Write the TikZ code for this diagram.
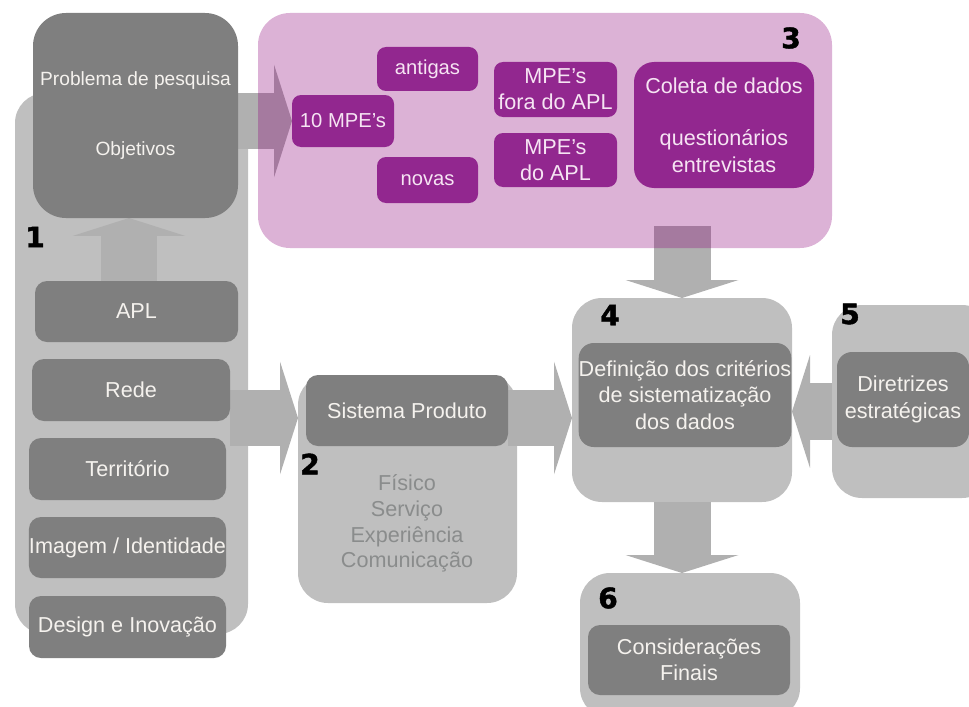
\documentclass[tikz,border=0pt]{standalone}
\usepackage{fontspec}
\setmainfont{Liberation Sans}
\newfontfamily\numfont{DejaVu Sans}[BoldFeatures={FakeBold=1.6}]
\usetikzlibrary{arrows.meta}

\definecolor{panelgray}{RGB}{191,191,191}
\definecolor{boxgray}{RGB}{127,127,127}
\definecolor{arrowgray}{RGB}{176,176,176}
\definecolor{mpepurple}{RGB}{146,39,143}
\definecolor{pinkbase}{RGB}{140,0,120}
\definecolor{boxtext}{RGB}{245,242,238}
\definecolor{mpetext}{RGB}{246,228,243}
\definecolor{softtext}{RGB}{138,140,140}

\pgfdeclarelayer{panels}
\pgfdeclarelayer{arrowlayer}
\pgfsetlayers{panels,arrowlayer,main}

\tikzset{
  wh/.style 2 args={minimum width=#1*0.02cm, minimum height=#2*0.02cm},
  panel/.style={fill=panelgray, rounded corners=0.6cm, inner sep=0pt, outer sep=0pt},
  graybox/.style={fill=boxgray, text=boxtext, rounded corners=0.24cm, inner sep=0pt,
    outer sep=0pt, align=center, font=\fontsize{12.3}{15}\selectfont},
  mpebox/.style={fill=mpepurple, text=mpetext, rounded corners=0.18cm, inner sep=0pt,
    outer sep=0pt, align=center, font=\fontsize{12.3}{15}\selectfont},
  softtxt/.style={text=softtext, align=center, inner sep=0pt, font=\fontsize{12.3}{14.7}\selectfont},
  stepnum/.style={inner sep=0pt, font=\numfont\bfseries\fontsize{16}{16}\selectfont},
  bigarrow/.style={draw=arrowgray, line width=1.14cm,
    -{Triangle[length=0.36cm, width=2.26cm, line width=0pt]}},
}

\begin{document}
\begin{tikzpicture}[x=0.02cm, y=-0.02cm]
\useasboundingbox (0,0) rectangle (969,706);
\clip (0,0) rectangle (969,706);

% light panels
\begin{pgfonlayer}{panels}
\node[panel, wh={233}{541}] (p1) at (131.5,363.5) {};
\node[panel, wh={219}{228}] (p2) at (407.5,489) {};
\node[panel, wh={220}{204}] (p4) at (682,400) {};
\node[panel, wh={160}{193}] (p5) at (912,401.5) {};
\node[panel, wh={220}{145}] (p6) at (690,645.5) {};
\end{pgfonlayer}

% block 1
\node[graybox, wh={205}{205}, rounded corners=0.66cm, font=\fontsize{10.9}{13}\selectfont]
  (prob) at (135.5,115.5) {Problema de pesquisa\\[27pt]Objetivos};
\node[graybox, wh={203}{61}] (apl) at (136.5,311.5) {APL};
\node[graybox, wh={198}{62}] (rede) at (131,390) {Rede};
\node[graybox, wh={197}{62}] (terr) at (127.5,469) {Território};
\node[graybox, wh={197}{61}] (img) at (127.5,547.5) {Imagem / Identidade};
\node[graybox, wh={197}{62}] (des) at (127.5,627) {Design e Inovação};

% block 3
\node[fill=pinkbase, fill opacity=0.3, rounded corners=0.64cm, inner sep=0pt, outer sep=0pt,
  wh={574}{235}] (p3) at (545,130.5) {};
\node[mpebox, wh={102}{52}, font=\fontsize{11.5}{14}\selectfont] (mpe10) at (343,121) {10 MPE’s};
\node[mpebox, wh={101}{44}, font=\fontsize{11.5}{14}\selectfont] (antigas) at (427.5,69) {antigas};
\node[mpebox, wh={101}{46}, font=\fontsize{11.5}{14}\selectfont] (novas) at (427.5,180) {novas};
\node[mpebox, wh={123}{55}, font=\fontsize{12.3}{14.7}\selectfont] (fora) at (555.5,89.5) {MPE’s\\fora do APL};
\node[mpebox, wh={123}{54}, font=\fontsize{12.3}{14.7}\selectfont] (doapl) at (555.5,160) {MPE’s\\do APL};
\node[mpebox, wh={180}{126}, rounded corners=0.4cm] (coleta) at (724,125)
  {Coleta de dados\\[15pt]questionários\\entrevistas};

% blocks 2, 4, 5, 6
\node[graybox, wh={202}{71}] (sp) at (407,410.5) {Sistema Produto};
\node[softtxt] (p2txt) at (407,523.5) {Físico\\Serviço\\Experiência\\Comunicação};
\node[graybox, wh={210}{104}, rounded corners=0.3cm] (defn) at (685,395)
  {Definição dos critérios\\de sistematização\\dos dados};
\node[graybox, wh={132}{95}, rounded corners=0.3cm] (dir) at (903,399.5) {Diretrizes\\estratégicas};
\node[graybox, wh={202}{70}] (cons) at (689,660) {Considerações\\Finais};

% step numbers
\node[stepnum] (num1) at (35,237) {1};
\node[stepnum] (num2) at (310,464) {2};
\node[stepnum] (num3) at (791,38) {3};
\node[stepnum] (num4) at (610,315) {4};
\node[stepnum] (num5) at (850,314) {5};
\node[stepnum] (num6) at (608,598) {6};

% arrows
\coordinate (row) at ([yshift=-0.56cm]rede.east);
\begin{pgfonlayer}{arrowlayer}
\draw[bigarrow] ([xshift=-0.15cm]apl.north) -- ([xshift=-0.15cm]apl.north |- prob.south);
\draw[bigarrow] (prob.east |- mpe10) -- (mpe10.west);
\draw[bigarrow] (row) -- (row -| p2.west);
\draw[bigarrow] (row -| sp.east) -- (row -| p4.west);
\draw[bigarrow] ([yshift=-0.2cm]p5.west) -- ([yshift=-0.2cm]p5.west -| p4.east);
\draw[bigarrow] ([yshift=0.44cm]p3.south -| p4.north) -- (p4.north);
\draw[bigarrow] (p4.south) -- (p4.south |- p6.north);
\end{pgfonlayer}
\end{tikzpicture}
\end{document}
